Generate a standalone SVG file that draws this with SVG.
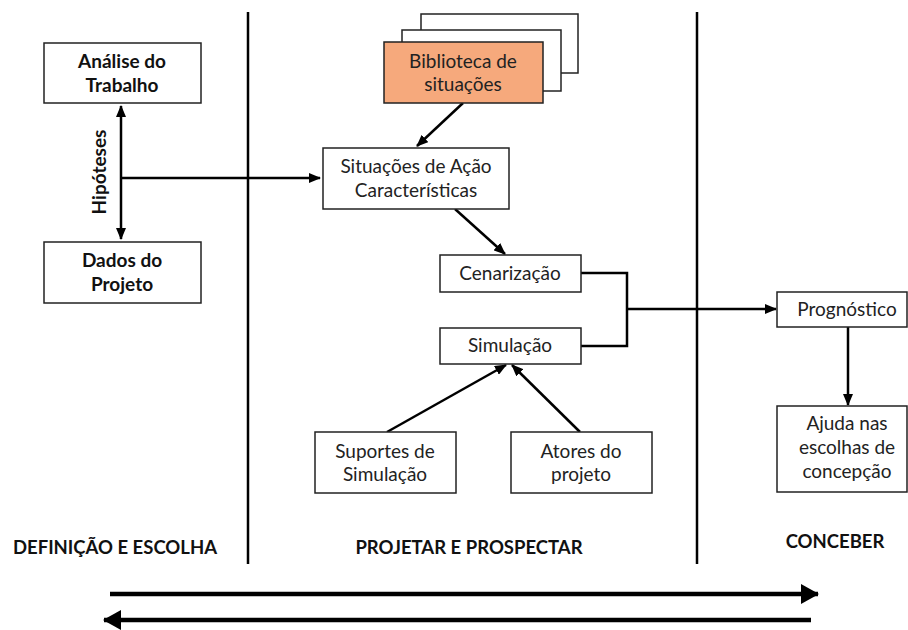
<svg xmlns="http://www.w3.org/2000/svg" width="908" height="630" viewBox="0 0 908 630">
<defs>
<style>
.box{fill:#fff;stroke:#222;stroke-width:1.5}
.org{fill:#F6A97C;stroke:#222;stroke-width:1.5}
.t{font-family:Lato,"Liberation Sans",sans-serif;font-size:19px;fill:#222;text-anchor:middle}
.b{font-family:Lato,"Liberation Sans",sans-serif;font-size:19px;font-weight:bold;fill:#111;text-anchor:middle}
.h{font-family:Lato,"Liberation Sans",sans-serif;font-size:18.5px;font-weight:bold;fill:#111;text-anchor:middle}
.c{fill:none;stroke:#000;stroke-width:2.5}
.div{fill:none;stroke:#000;stroke-width:2.5}
.big{fill:none;stroke:#000;stroke-width:4.5}
</style>
<marker id="ah" viewBox="0 0 12 10" refX="11" refY="5" markerWidth="12" markerHeight="10" orient="auto-start-reverse" markerUnits="userSpaceOnUse"><path d="M0,0 L12,5 L0,10 z" fill="#000"/></marker>
<marker id="bh" viewBox="0 0 18 20" refX="17" refY="10" markerWidth="18" markerHeight="20" orient="auto" markerUnits="userSpaceOnUse"><path d="M0,0 L18,10 L0,20 z" fill="#000"/></marker>
</defs>
<rect width="908" height="630" fill="#fff"/>

<g id="dividers">
<line class="div" x1="248" y1="12" x2="248" y2="564"/>
<line class="div" x1="697" y1="12" x2="697" y2="564"/>
</g>

<g id="connectors">
<line class="c" x1="121" y1="106" x2="121" y2="239" marker-start="url(#ah)" marker-end="url(#ah)"/>
<line class="c" x1="121" y1="178" x2="320" y2="178" marker-end="url(#ah)"/>
<line class="c" x1="463" y1="103" x2="417" y2="146" marker-end="url(#ah)"/>
<line class="c" x1="455" y1="209" x2="505" y2="254" marker-end="url(#ah)"/>
<polyline class="c" points="581,273 627,273 627,346 581,346"/>
<line class="c" x1="627" y1="309" x2="776" y2="309" marker-end="url(#ah)"/>
<line class="c" x1="848" y1="327" x2="848" y2="405" marker-end="url(#ah)"/>
<line class="c" x1="387" y1="432" x2="506" y2="365" marker-end="url(#ah)"/>
<line class="c" x1="580" y1="432" x2="512" y2="365" marker-end="url(#ah)"/>
</g>

<g id="analise">
<rect class="box" x="44" y="43" width="157" height="60"/>
<text class="b" x="122" y="68">Análise do</text>
<text class="b" x="122" y="92">Trabalho</text>
</g>
<g id="dados">
<rect class="box" x="44" y="242" width="157" height="61"/>
<text class="b" x="122" y="267">Dados do</text>
<text class="b" x="122" y="291">Projeto</text>
</g>
<g id="hipoteses">
<text class="b" transform="translate(106,172) rotate(-90)">Hipóteses</text>
</g>

<g id="biblioteca">
<rect class="box" x="421" y="14" width="157" height="59"/>
<rect class="box" x="402" y="30" width="159" height="61"/>
<rect class="org" x="384" y="42" width="159" height="61"/>
<text class="t" x="463" y="68">Biblioteca de</text>
<text class="t" x="463" y="91">situações</text>
</g>

<g id="situacoes">
<rect class="box" x="323" y="148" width="186" height="61"/>
<text class="t" x="416" y="173">Situações de Ação</text>
<text class="t" x="416" y="197">Características</text>
</g>

<g id="cenarizacao">
<rect class="box" x="440" y="255" width="141" height="37"/>
<text class="t" x="510" y="280">Cenarização</text>
</g>
<g id="simulacao">
<rect class="box" x="440" y="328" width="141" height="36"/>
<text class="t" x="510" y="352">Simulação</text>
</g>

<g id="suportes">
<rect class="box" x="315" y="432" width="141" height="61"/>
<text class="t" x="385" y="458">Suportes de</text>
<text class="t" x="385" y="481">Simulação</text>
</g>
<g id="atores">
<rect class="box" x="511" y="432" width="141" height="61"/>
<text class="t" x="581" y="458">Atores do</text>
<text class="t" x="581" y="481">projeto</text>
</g>

<g id="prognostico">
<rect class="box" x="777" y="292" width="130" height="35"/>
<text class="t" x="847" y="316">Prognóstico</text>
</g>
<g id="ajuda">
<rect class="box" x="777" y="406" width="130" height="86"/>
<text class="t" x="847" y="430">Ajuda nas</text>
<text class="t" x="847" y="454">escolhas de</text>
<text class="t" x="847" y="478">concepção</text>
</g>

<g id="labels">
<text class="h" x="115" y="554">DEFINIÇÃO E ESCOLHA</text>
<text class="h" x="469" y="554">PROJETAR E PROSPECTAR</text>
<text class="h" x="835" y="548">CONCEBER</text>
</g>

<g id="timeline">
<line class="big" x1="110" y1="594" x2="818" y2="594" marker-end="url(#bh)"/>
<line class="big" x1="811" y1="620" x2="104" y2="620" marker-end="url(#bh)"/>
</g>
</svg>
